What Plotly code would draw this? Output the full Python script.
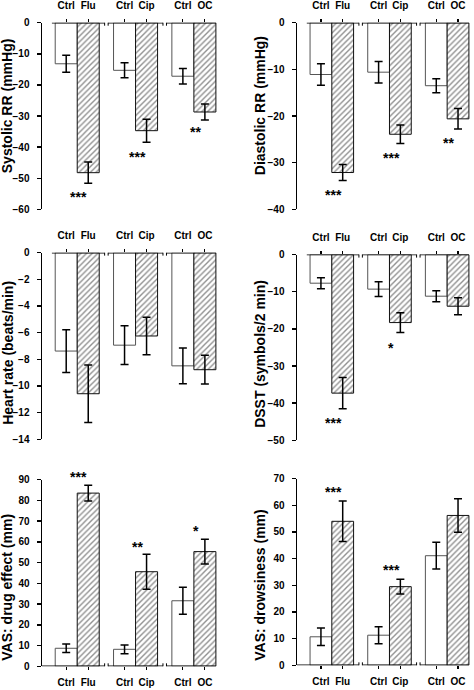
import plotly.graph_objects as go

# ---------------- data ----------------
group_labels = [["Ctrl", "Flu"], ["Ctrl", "Cip"], ["Ctrl", "OC"]]

sys_title = "Systolic RR (mmHg)"
sys_ctrl = [-13.2, -15.3, -17.2]
sys_ctrl_err = [2.7, 2.4, 2.5]
sys_drug = [-48.2, -34.7, -28.7]
sys_drug_err = [3.4, 3.7, 2.6]
sys_stars = ["***", "***", "**"]
sys_star_y = [-55.5, -42.6, -34.5]

dia_title = "Diastolic RR (mmHg)"
dia_ctrl = [-11.1, -10.6, -13.5]
dia_ctrl_err = [2.3, 2.3, 1.5]
dia_drug = [-32.1, -23.9, -20.6]
dia_drug_err = [1.7, 2.0, 2.2]
dia_stars = ["***", "***", "**"]
dia_star_y = [-36.5, -28.6, -25.4]

hr_title = "Heart rate (beats/min)"
hr_ctrl = [-7.38, -6.94, -8.49]
hr_ctrl_err = [1.6, 1.45, 1.34]
hr_drug = [-10.58, -6.25, -8.78]
hr_drug_err = [2.15, 1.4, 1.08]
hr_stars = ["", "", ""]
hr_star_y = [None, None, None]

dsst_title = "DSST (symbols/2 min)"
dsst_ctrl = [-7.7, -9.3, -11.2]
dsst_ctrl_err = [1.5, 2.0, 1.5]
dsst_drug = [-37.3, -18.3, -13.9]
dsst_drug_err = [4.2, 2.65, 2.3]
dsst_stars = ["***", "*", ""]
dsst_star_y = [-44.8, -24.7, None]

vde_title = "VAS: drug effect (mm)"
vde_ctrl = [8.7, 8.2, 31.6]
vde_ctrl_err = [2.05, 2.1, 6.5]
vde_drug = [83.5, 45.6, 55.3]
vde_drug_err = [3.8, 8.4, 6.0]
vde_stars = ["***", "**", "*"]
vde_star_y = [92.4, 58.4, 66.0]

vdr_title = "VAS: drowsiness (mm)"
vdr_ctrl = [10.7, 11.3, 41.1]
vdr_ctrl_err = [3.3, 3.2, 5.0]
vdr_drug = [54.0, 29.5, 56.2]
vdr_drug_err = [7.6, 2.8, 6.3]
vdr_stars = ["***", "***", ""]
vdr_star_y = [65.7, 36.5, None]

# ---------------- layout constants ----------------
W, H = 474, 690
FONT = "Liberation Sans, Arial, Helvetica, sans-serif"
G = [1.6, 4.25, 6.9]          # group centres (bar width = 1)
XR = [0, 7.95]

panels = [
    dict(title=sys_title, ctrl=sys_ctrl, ce=sys_ctrl_err, drug=sys_drug, de=sys_drug_err,
         stars=sys_stars, sy=sys_star_y, yr=[-60, 0], dt=10,
         px=(42, 217), py=(17, 207), top=True, tpos=(7, 102)),
    dict(title=dia_title, ctrl=dia_ctrl, ce=dia_ctrl_err, drug=dia_drug, de=dia_drug_err,
         stars=dia_stars, sy=dia_star_y, yr=[-40, 0], dt=10,
         px=(297, 470), py=(17, 207), top=True, tpos=(260, 102)),
    dict(title=hr_title, ctrl=hr_ctrl, ce=hr_ctrl_err, drug=hr_drug, de=hr_drug_err,
         stars=hr_stars, sy=hr_star_y, yr=[-14, 0], dt=2,
         px=(42, 217), py=(251, 441), top=True, tpos=(8, 353)),
    dict(title=dsst_title, ctrl=dsst_ctrl, ce=dsst_ctrl_err, drug=dsst_drug, de=dsst_drug_err,
         stars=dsst_stars, sy=dsst_star_y, yr=[-50, 0], dt=10,
         px=(297, 470), py=(253, 442), top=True, tpos=(260, 354)),
    dict(title=vde_title, ctrl=vde_ctrl, ce=vde_ctrl_err, drug=vde_drug, de=vde_drug_err,
         stars=vde_stars, sy=vde_star_y, yr=[0, 90], dt=10,
         px=(42, 217), py=(482, 672), top=False, tpos=(7, 592)),
    dict(title=vdr_title, ctrl=vdr_ctrl, ce=vdr_ctrl_err, drug=vdr_drug, de=vdr_drug_err,
         stars=vdr_stars, sy=vdr_star_y, yr=[0, 70], dt=10,
         px=(297, 470), py=(481, 671), top=False, tpos=(260, 590)),
]

fig = go.Figure()
layout = dict(width=W, height=H, margin=dict(l=0, r=0, t=0, b=0),
              paper_bgcolor="white", plot_bgcolor="white", showlegend=False,
              barmode="overlay", font=dict(family=FONT, color="black"),
              shapes=[], annotations=[])

for i, p in enumerate(panels, start=1):
    sfx = "" if i == 1 else str(i)
    xa, ya = "x" + sfx, "y" + sfx
    ctrl_x = [g - 0.5 for g in G]
    drug_x = [g + 0.5 for g in G]

    fig.add_trace(go.Bar(
        x=ctrl_x, y=p["ctrl"], width=1, xaxis=xa, yaxis=ya,
        marker=dict(color="white", line=dict(color="#555", width=1)),
        error_y=dict(type="data", array=p["ce"], color="black", thickness=1.5, width=4),
        hoverinfo="skip"))
    fig.add_trace(go.Bar(
        x=drug_x, y=p["drug"], width=1, xaxis=xa, yaxis=ya,
        marker=dict(color="white", line=dict(color="#111", width=1),
                    pattern=dict(shape="/", fgcolor="#222", bgcolor="white",
                                 size=4, solidity=0.35)),
        error_y=dict(type="data", array=p["de"], color="black", thickness=1.5, width=4),
        hoverinfo="skip"))

    tickvals, ticktext = [], []
    for g, lab in zip(G, group_labels):
        tickvals += [g - 0.5, g + 0.5]
        ticktext += lab

    x0d, x1d = p["px"][0] / W, p["px"][1] / W
    y0d, y1d = 1 - p["py"][1] / H, 1 - p["py"][0] / H

    layout["xaxis" + sfx] = dict(
        domain=[x0d, x1d], range=XR, anchor=ya, side="top" if p["top"] else "bottom",
        showline=False, showgrid=False, zeroline=False,
        tickmode="array", tickvals=tickvals, ticktext=ticktext,
        ticks="outside", ticklen=3, tickwidth=1.2, tickcolor="black",
        ticklabelstandoff=6 if p["top"] else 4,
        tickfont=dict(family=FONT, size=10, weight="bold", color="black"),
        fixedrange=True)
    layout["yaxis" + sfx] = dict(
        domain=[y0d, y1d], range=p["yr"], anchor=xa,
        showline=True, linecolor="black", linewidth=1.5,
        showgrid=False, zeroline=False, tick0=0, dtick=p["dt"],
        ticks="outside", ticklen=4, tickwidth=1.5, tickcolor="black",
        ticklabelstandoff=5,
        tickfont=dict(family=FONT, size=10, weight="bold", color="black"),
        fixedrange=True)

    # axis line at zero with break marks
    breaks = [(G[k] + 1 + G[k + 1] - 1) / 2 for k in range(len(G) - 1)]
    gap = 0.08
    start = 0.45 if p["top"] else XR[0]
    pts = [start]
    for b in breaks:
        pts += [b - gap, b + gap]
    pts.append(G[-1] + 1)
    for k in range(0, len(pts), 2):
        layout["shapes"].append(dict(type="line", xref=xa, yref=ya,
                                     x0=pts[k], x1=pts[k + 1], y0=0, y1=0,
                                     line=dict(color="black", width=1.5)))
    for b in breaks:
        for s in (-gap, gap):
            layout["shapes"].append(dict(type="line", xref=xa, yref=ya,
                                         x0=b + s, x1=b + s, ysizemode="pixel", yanchor=0,
                                         y0=-3, y1=3, line=dict(color="black", width=1)))

    # significance stars (domain-referenced so they stay visible outside the range)
    r0, r1 = p["yr"]
    for g, st, sy in zip(G, p["stars"], p["sy"]):
        if st and sy is not None:
            layout["annotations"].append(dict(
                xref=xa, yref=ya + " domain", x=g + 0.08, y=(sy - r0) / (r1 - r0),
                text=st, showarrow=False,
                xanchor="center", yanchor="middle", yshift=-2,
                font=dict(family=FONT, size=14, weight="bold", color="black")))

    # axis title
    tx, ty = p["tpos"]
    layout["annotations"].append(dict(
        xref="paper", yref="paper", x=tx / W, y=1 - ty / H, text=p["title"],
        textangle=-90, showarrow=False, xanchor="center", yanchor="middle",
        font=dict(family=FONT, size=14, weight="bold", color="black")))

fig.update_layout(**layout)
fig.write_html(
    "out.html",
    config={"displayModeBar": False, "staticPlot": True},
    post_script="document.body.style.margin='0';document.body.style.padding='0';"
                "document.body.style.overflow='hidden';",
)
